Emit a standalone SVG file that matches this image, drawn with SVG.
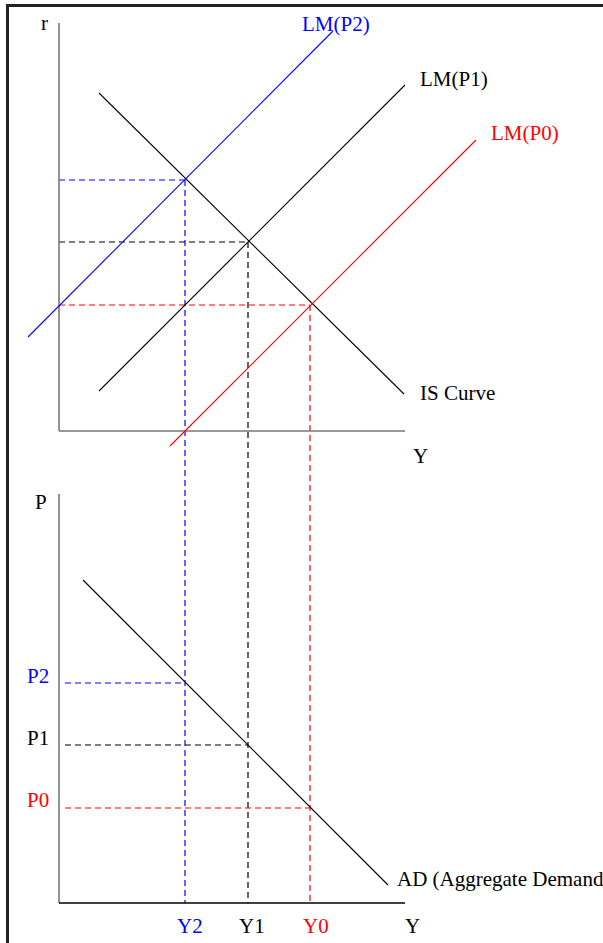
<svg xmlns="http://www.w3.org/2000/svg" width="603" height="943" viewBox="0 0 603 943">
<style>
text{font-family:"Liberation Serif","Times New Roman",serif;font-size:21px;fill:#000}
.axis{stroke:#777;stroke-width:1.6;fill:none}
.axisk{stroke:#000;stroke-width:1.4;fill:none}
.crv{stroke-width:1.1;fill:none}
.dash{stroke-width:1.2;stroke-dasharray:6,4;fill:none}
.k{stroke:#000}.b{stroke:#00f}.r{stroke:#f00}
.tb{fill:#00f}.tr{fill:#f00}
</style>
<rect width="603" height="943" fill="#fff"/>
<g id="frame">
<line x1="7.5" y1="4" x2="7.5" y2="943" stroke="#222" stroke-width="3"/>
<line x1="6" y1="5.5" x2="603" y2="5.5" stroke="#222" stroke-width="3"/>
</g>
<g id="connectors">
<!-- top chart guide lines -->
<line class="dash b" x1="59" y1="180" x2="185" y2="180"/>
<line class="dash k" x1="59" y1="242" x2="248" y2="242"/>
<line class="dash r" x1="59" y1="305" x2="310" y2="305"/>
<line class="dash b" x1="185" y1="180" x2="185" y2="903"/>
<line class="dash k" x1="248" y1="242" x2="248" y2="903"/>
<line class="dash r" x1="310" y1="305" x2="310" y2="903"/>
<!-- bottom chart guide lines -->
<line class="dash b" x1="65" y1="683" x2="185" y2="683"/>
<line class="dash k" x1="65" y1="745" x2="248" y2="745"/>
<line class="dash r" x1="65" y1="808" x2="310" y2="808"/>
</g>
<g id="top-axes">
<line class="axis" x1="59" y1="23" x2="59" y2="431"/>
<line class="axis" x1="59" y1="431" x2="405" y2="431"/>
<text x="41" y="30">r</text>
<text x="413" y="463">Y</text>
</g>
<g id="is-curve">
<line class="crv k" x1="99" y1="93" x2="404" y2="394"/>
<text x="420" y="400">IS Curve</text>
</g>
<g id="lm-p2">
<line class="crv b" x1="28" y1="337" x2="333" y2="31"/>
<text class="tb" x="302" y="31">LM(P2)</text>
</g>
<g id="lm-p1">
<line class="crv k" x1="99" y1="391" x2="405" y2="85"/>
<text x="420" y="86">LM(P1)</text>
</g>
<g id="lm-p0">
<line class="crv r" x1="170" y1="446" x2="476" y2="140"/>
<text class="tr" x="491" y="140">LM(P0)</text>
</g>
<g id="bottom-axes">
<line class="axis" x1="59" y1="494" x2="59" y2="903"/>
<line class="axisk" x1="59" y1="903" x2="405" y2="903"/>
<text x="35" y="509">P</text>
<text x="405" y="933">Y</text>
</g>
<g id="ad-curve">
<line class="crv k" x1="83" y1="580" x2="388" y2="885"/>
<text x="397" y="886">AD (Aggregate Demand</text>
</g>
<g id="price-labels">
<text class="tb" x="27" y="683">P2</text>
<text x="27" y="745">P1</text>
<text class="tr" x="27" y="807">P0</text>
</g>
<g id="output-labels">
<text class="tb" x="177" y="933">Y2</text>
<text x="239" y="933">Y1</text>
<text class="tr" x="303" y="933">Y0</text>
</g>
</svg>
